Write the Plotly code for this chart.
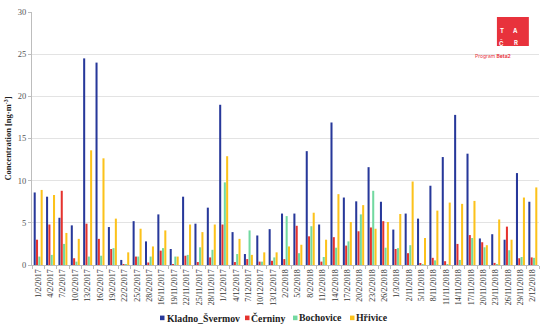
import plotly.graph_objects as go

dates = ["1/2/2017", "4/2/2017", "7/2/2017", "10/2/2017", "13/2/2017", "16/2/2017", "19/2/2017",
         "22/2/2017", "25/2/2017", "28/2/2017", "16/11/2017", "19/11/2017", "22/11/2017",
         "25/11/2017", "28/11/2017", "1/12/2017", "4/12/2017", "7/12/2017", "10/12/2017",
         "13/12/2017", "2/2/2018", "5/2/2018", "8/2/2018", "11/2/2018", "14/2/2018", "17/2/2018",
         "20/2/2018", "23/2/2018", "26/2/2018", "1/3/2018", "2/11/2018", "5/11/2018", "8/11/2018",
         "11/11/2018", "14/11/2018", "17/11/2018", "20/11/2018", "23/11/2018", "26/11/2018",
         "29/11/2018", "2/12/2018"]

kladno = [8.6, 8.1, 5.6, 4.7, 24.5, 24.0, 4.5, 0.6, 5.2, 2.8, 6.0, 1.9, 8.1, 4.9, 6.8, 19.0, 3.9,
          1.3, 3.5, 4.25, 6.1, 6.1, 13.5, 4.8, 16.9, 8.0, 7.55, 11.6, 7.5, 4.2, 6.1, 5.5, 9.4,
          12.8, 17.8, 13.2, 3.15, 3.65, 3.0, 10.9, 7.5]
cerniny = [3.0, 4.8, 8.8, 0.8, 4.9, 3.1, 1.9, 0.05, 1.0, 0.3, 1.7, 0.1, 1.1, 0.35, 0.9, 4.8, 0.35,
           0.7, 0.4, 0.5, 0.7, 4.65, 3.4, 0.4, 3.3, 2.3, 4.0, 4.45, 5.2, 1.9, 1.4, 0.15, 0.85,
           0.45, 2.5, 3.55, 2.7, 0.25, 4.55, 0.8, 0.9]
bochovice = [1.0, 1.2, 2.5, 0.4, 1.0, 1.1, 2.0, 0.1, 1.0, 1.0, 2.0, 1.0, 1.2, 2.1, 1.8, 9.8, 1.3,
             4.1, 0.4, 0.9, 5.8, 1.4, 4.6, 0.95, 2.05, 2.8, 6.0, 8.8, 2.05, 2.0, 2.35, 0.1, 0.55,
             0.1, 0.6, 3.2, 2.1, 0.05, 1.75, 0.95, 0.85]
hrivice = [8.9, 8.3, 3.8, 3.1, 13.6, 12.65, 5.5, 1.5, 4.3, 2.2, 4.1, 1.0, 4.8, 3.9, 4.8, 12.9, 3.1,
           1.2, 1.5, 1.5, 2.2, 2.4, 6.2, 3.0, 8.4, 5.1, 7.1, 4.3, 5.1, 6.05, 9.9, 3.2, 6.45, 7.4,
           7.25, 7.6, 2.35, 5.4, 3.0, 8.0, 9.2]

series = [("Kladno_Švermov", kladno, "#27389a"),
          ("Černiny", cerniny, "#e5332e"),
          ("Bochovice", bochovice, "#72d9a0"),
          ("Hřivice", hrivice, "#fcc21b")]

fig = go.Figure()
for name, vals, col in series:
    fig.add_trace(go.Bar(x=dates, y=vals, name=name, showlegend=False,
                         marker=dict(color=col, line=dict(width=0))))

serif = "Liberation Serif"
fig.update_layout(
    width=550, height=329,
    margin=dict(l=32, r=11, t=12, b=64, autoexpand=False),
    paper_bgcolor="white", plot_bgcolor="white",
    barmode="group", bargap=0.25, bargroupgap=0.12,
    font=dict(family=serif, size=8, color="#444"),
    showlegend=False,
    xaxis=dict(type="category", tickangle=-90, tickfont=dict(family=serif, size=8, color="#333"),
               showline=True, linecolor="#bdbdbd", linewidth=1, ticks="outside",
               tickson="boundaries", ticklen=3, tickcolor="#bdbdbd", showgrid=False),
    yaxis=dict(range=[0, 30], dtick=5, showgrid=True, gridcolor="#e3e3e3", gridwidth=1,
               showline=True, linecolor="#bdbdbd", linewidth=1, ticks="outside", ticklen=3,
               tickcolor="#bdbdbd", tickfont=dict(family=serif, size=8.5, color="#555"),
               zeroline=False,
               title=dict(text="Concentration [ng·m<sup>-3</sup>]", standoff=4,
                          font=dict(family=serif, size=8.5, color="#222", weight="bold"))),
)

# compact legend drawn with shapes + text
leg_y = -0.209
x_of = lambda px: (px - 32) / 507.0
leg_pos = [(160, 165), (245, 249), (293, 297), (350, 354)]
for (name, _, col), (mx, tx) in zip(series, leg_pos):
    fig.add_shape(type="rect", xref="paper", yref="paper",
                  x0=x_of(mx), x1=x_of(mx + 4.5), y0=leg_y - 2.3 / 253, y1=leg_y + 2.3 / 253,
                  fillcolor=col, line=dict(width=0))
    fig.add_annotation(text="<b>" + name + "</b>", xref="paper", yref="paper", x=x_of(tx), y=leg_y,
                       xanchor="left", yanchor="middle", showarrow=False,
                       font=dict(family=serif, size=9.8, color="#222"))

# logo (TA ČR, Program Beta2)
fig.add_shape(type="rect", xref="paper", yref="paper", x0=0.917, x1=0.980, y0=0.866, y1=0.980,
              fillcolor="#e8323c", line=dict(width=0))
for txt, xx, yy in [("T", 0.934, 0.948), ("A", 0.963, 0.948), ("Č", 0.934, 0.902), ("R", 0.963, 0.902)]:
    fig.add_annotation(text="<b>" + txt + "</b>", xref="paper", yref="paper", x=xx, y=yy,
                       showarrow=False, font=dict(family="Inter", size=6, color="white"))
fig.add_annotation(text="Program <b>Beta2</b>", xref="paper", yref="paper", x=0.948, y=0.846,
                   showarrow=False, font=dict(family="Inter", size=5, color="#e8323c"))

fig.write_html("out.html", config={"displayModeBar": False},
               post_script="document.body.style.margin='0';document.body.style.overflow='hidden';")
